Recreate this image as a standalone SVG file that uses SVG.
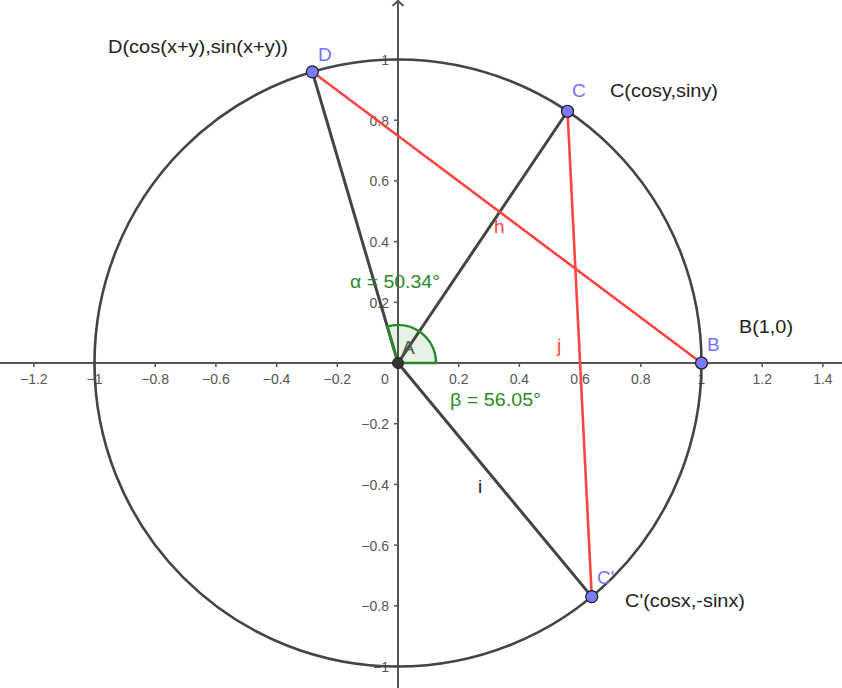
<svg xmlns="http://www.w3.org/2000/svg" width="842" height="688" viewBox="0 0 842 688">
<style>
text{font-family:"Liberation Sans",Arial,sans-serif}
.tx{font-size:14px;fill:#555;text-anchor:middle}
.ty{font-size:14px;fill:#555;text-anchor:end}
.axis{stroke:#555;stroke-width:2;fill:none}
.tick{stroke:#555;stroke-width:1.5}
.seg{stroke:#444;stroke-width:3;stroke-linecap:round}
.red{stroke:#ff4444;stroke-width:2.6;stroke-linecap:round}
.pt{fill:#7b7bff;stroke:#1a1a1a;stroke-width:1.2}
.plab{font-size:19px;fill:#7373ff}
.lab{font-size:19px;fill:#222}
.ang{font-size:19px;fill:#2a8a2a}
</style>
<rect width="842" height="688" fill="#fff"/>
<g id="axes">
<line class="axis" x1="0" y1="363" x2="842" y2="363"/>
<line class="axis" x1="398" y1="0" x2="398" y2="688"/>
<polyline class="axis" points="392.5,6 398,0.8 403.5,6" stroke-width="1.5"/>
<g class="tick">
<line x1="33.8" y1="363" x2="33.8" y2="367"/><line x1="94.5" y1="363" x2="94.5" y2="367"/><line x1="155.2" y1="363" x2="155.2" y2="367"/><line x1="215.9" y1="363" x2="215.9" y2="367"/><line x1="276.6" y1="363" x2="276.6" y2="367"/><line x1="337.3" y1="363" x2="337.3" y2="367"/>
<line x1="458.7" y1="363" x2="458.7" y2="367"/><line x1="519.4" y1="363" x2="519.4" y2="367"/><line x1="580.1" y1="363" x2="580.1" y2="367"/><line x1="640.8" y1="363" x2="640.8" y2="367"/><line x1="701.5" y1="363" x2="701.5" y2="367"/><line x1="762.2" y1="363" x2="762.2" y2="367"/><line x1="822.9" y1="363" x2="822.9" y2="367"/>
<line x1="394" y1="59.5" x2="398" y2="59.5"/><line x1="394" y1="120.2" x2="398" y2="120.2"/><line x1="394" y1="180.9" x2="398" y2="180.9"/><line x1="394" y1="241.6" x2="398" y2="241.6"/><line x1="394" y1="302.3" x2="398" y2="302.3"/>
<line x1="394" y1="423.7" x2="398" y2="423.7"/><line x1="394" y1="484.4" x2="398" y2="484.4"/><line x1="394" y1="545.1" x2="398" y2="545.1"/><line x1="394" y1="605.8" x2="398" y2="605.8"/><line x1="394" y1="666.5" x2="398" y2="666.5"/>
</g>
<g>
<text class="tx" x="33.8" y="383.5">−1.2</text><text class="tx" x="94.5" y="383.5">−1</text><text class="tx" x="155.2" y="383.5">−0.8</text><text class="tx" x="215.9" y="383.5">−0.6</text><text class="tx" x="276.6" y="383.5">−0.4</text><text class="tx" x="337.3" y="383.5">−0.2</text>
<text class="tx" x="385" y="383.5">0</text>
<text class="tx" x="458.7" y="383.5">0.2</text><text class="tx" x="519.4" y="383.5">0.4</text><text class="tx" x="580.1" y="383.5">0.6</text><text class="tx" x="640.8" y="383.5">0.8</text><text class="tx" x="701.5" y="383.5">1</text><text class="tx" x="762.2" y="383.5">1.2</text><text class="tx" x="822.9" y="383.5">1.4</text>
<text class="ty" x="389" y="65">1</text><text class="ty" x="389" y="125.7">0.8</text><text class="ty" x="389" y="186.4">0.6</text><text class="ty" x="389" y="247.1">0.4</text><text class="ty" x="389" y="307.8">0.2</text>
<text class="ty" x="389" y="429.2">−0.2</text><text class="ty" x="389" y="489.9">−0.4</text><text class="ty" x="389" y="550.6">−0.6</text><text class="ty" x="389" y="611.3">−0.8</text><text class="ty" x="389" y="672">−1</text>
</g>
</g>
<g id="circle">
<circle cx="398" cy="363" r="303.5" fill="none" stroke="#444" stroke-width="2.6"/>
</g>
<g id="connectors">
<line id="seg-AD" class="seg" x1="398" y1="363" x2="312.36" y2="71.83"/>
<line id="seg-AC" class="seg" x1="398" y1="363" x2="567.52" y2="111.26"/>
<line id="seg-i" class="seg" x1="398" y1="363" x2="591.74" y2="596.62"/>
<line id="seg-h" class="red" x1="312.36" y1="71.83" x2="701.5" y2="363"/>
<line id="seg-j" class="red" x1="567.52" y1="111.26" x2="591.74" y2="596.62"/>
<text x="494" y="233" font-size="19" fill="#ff4444">h</text>
<text x="557" y="352" font-size="19" fill="#ff4444">j</text>
<text x="478" y="493" font-size="19" fill="#222">i</text>
</g>
<g id="angle">
<path d="M398,363 L436,363 A38,38 0 0 0 387.28,326.54 Z" fill="#008000" fill-opacity="0.1" stroke="#2a8a2a" stroke-width="2.5"/>
<text class="ang" x="350" y="288" textLength="90" lengthAdjust="spacingAndGlyphs">α = 50.34°</text>
<text class="ang" x="450" y="406" textLength="91" lengthAdjust="spacingAndGlyphs">β = 56.05°</text>
</g>
<g id="A">
<circle cx="398" cy="363" r="5.5" fill="#333" stroke="#222" stroke-width="1"/>
<text x="402" y="354" font-size="19" fill="#555">A</text>
</g>
<g id="B">
<circle class="pt" cx="701.5" cy="363" r="6"/>
<text class="plab" x="707" y="351">B</text>
<text class="lab" x="739" y="333" textLength="54" lengthAdjust="spacingAndGlyphs">B(1,0)</text>
</g>
<g id="C">
<circle class="pt" cx="567.52" cy="111.26" r="6"/>
<text class="plab" x="572" y="97">C</text>
<text class="lab" x="610" y="97" textLength="108" lengthAdjust="spacingAndGlyphs">C(cosy,siny)</text>
</g>
<g id="C1">
<circle class="pt" cx="591.74" cy="596.62" r="6"/>
<text class="plab" x="597" y="584">C'</text>
<text class="lab" x="625" y="607" textLength="120" lengthAdjust="spacingAndGlyphs">C'(cosx,-sinx)</text>
</g>
<g id="D">
<circle class="pt" cx="312.36" cy="71.83" r="6"/>
<text class="plab" x="318" y="61">D</text>
<text class="lab" x="108" y="53" textLength="180" lengthAdjust="spacingAndGlyphs">D(cos(x+y),sin(x+y))</text>
</g>
</svg>
